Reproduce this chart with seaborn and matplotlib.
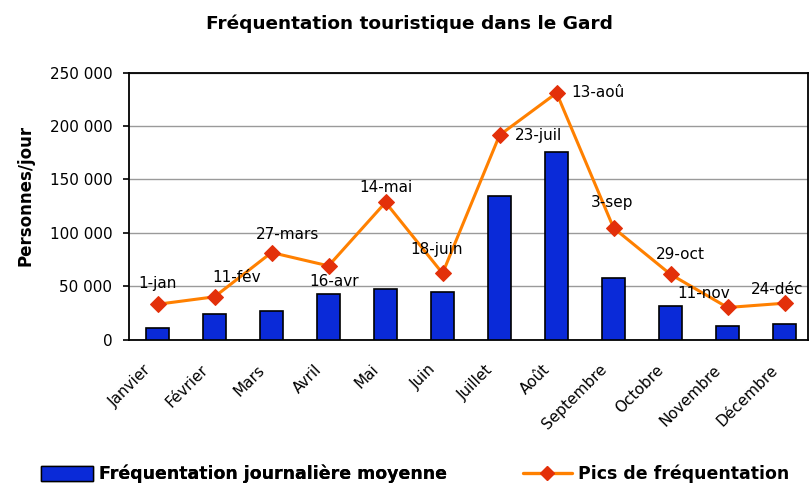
import matplotlib
matplotlib.use("Agg")
import matplotlib.pyplot as plt
import matplotlib.transforms as mtransforms
from matplotlib.ticker import FuncFormatter, MultipleLocator
from matplotlib.patches import Patch
from matplotlib.lines import Line2D
import seaborn as sns
import pandas as pd
import numpy as np

# ---- data ----
months = ["Janvier", "Février", "Mars", "Avril", "Mai", "Juin", "Juillet",
          "Août", "Septembre", "Octobre", "Novembre", "Décembre"]
avg_daily = [11000, 23500, 26500, 43000, 47000, 44500, 134500,
             176000, 57500, 31000, 13000, 14500]
peaks = [33000, 40000, 81500, 69000, 128500, 62000, 191500,
         231000, 104500, 61000, 30000, 34000]
peak_labels = ["1-jan", "11-fév", "27-mars", "16-avr", "14-mai", "18-juin",
               "23-juil", "13-aoû", "3-sep", "29-oct", "11-nov", "24-déc"]

title = "Fréquentation touristique dans le Gard"
ylabel = "Personnes/jour"
legend_bar = "Fréquentation journalière moyenne"
legend_line = "Pics de fréquentation"

# label placement (pixel offsets, ha)
label_offsets = [(0, 21, "center"), (22, 19, "center"), (16, 18, "center"),
                 (6, -16, "center"), (0, 15, "center"), (-6, 24, "center"),
                 (15, 0, "left"), (15, 0, "left"), (-2, 25, "center"),
                 (10, 20, "center"), (-24, 14, "center"), (-8, 14, "center")]

df = pd.DataFrame({"mois": months, "moyenne": avg_daily, "pic": peaks,
                   "idx": np.arange(len(months))})

sns.set_theme(style="white")
plt.rcParams["font.family"] = ["DejaVu Sans"]
plt.rcParams["text.color"] = "black"
plt.rcParams["axes.labelcolor"] = "black"
plt.rcParams["xtick.color"] = "black"
plt.rcParams["ytick.color"] = "black"

W, H = 810, 483
fig = plt.figure(figsize=(W / 100, H / 100), dpi=100)
ax = fig.add_axes([129 / W, 1 - 339.5 / H, (808 - 129) / W, (339.5 - 72.7) / H])

bar_color = "#0A2AD8"
line_color = "#FF8000"
marker_color = "#E3300A"

sns.barplot(data=df, x="mois", y="moyenne", ax=ax, color=bar_color,
            saturation=1, width=0.40, edgecolor="black", linewidth=1.2,
            zorder=3)
sns.lineplot(data=df, x="idx", y="pic", ax=ax, color=line_color, linewidth=2.2,
             marker="D", markersize=8.5, markerfacecolor=marker_color,
             markeredgecolor=marker_color, zorder=4)

ax.set_xlim(-0.5, 11.41)
ax.set_ylim(0, 250000)
ax.yaxis.set_major_locator(MultipleLocator(50000))
ax.yaxis.set_major_formatter(FuncFormatter(lambda v, p: f"{int(v):,}".replace(",", " ")))
ax.grid(axis="y", color="#9a9a9a", linewidth=1.0, zorder=0)
ax.set_axisbelow(True)
for s in ax.spines.values():
    s.set_color("black")
    s.set_linewidth(1.3)
    s.set_visible(True)

ax.tick_params(axis="y", length=4, width=1.2, color="black", pad=8,
               labelsize=11, left=True, labelcolor="black")
ax.tick_params(axis="x", length=0, pad=20, labelsize=11, labelcolor="black")
ax.set_xticks(range(len(months)))
ax.set_xticklabels(months, rotation=45, ha="right", va="center",
                   rotation_mode="anchor")
offset = mtransforms.ScaledTranslation(-9 / 100, 0, fig.dpi_scale_trans)
for lab in ax.get_xticklabels():
    lab.set_transform(lab.get_transform() + offset)

ax.set_xlabel("")
ax.set_ylabel(ylabel, fontsize=12, fontweight="bold", color="black")
ax.yaxis.set_label_coords((34 - 129) / (808 - 129), (339.5 - 195) / (339.5 - 72.7))

for i, (lab, (dx, dy, ha)) in enumerate(zip(peak_labels, label_offsets)):
    ax.annotate(lab, xy=(i, peaks[i]), xytext=(dx, dy), textcoords="offset pixels",
                ha=ha, va="center", fontsize=11, color="black", zorder=5)

fig.text(409 / W, 1 - 24 / H, title, ha="center", va="center",
         fontsize=13.3, fontweight="bold", color="black")

h1 = Patch(facecolor=bar_color, edgecolor="black", linewidth=1.0)
h2 = Line2D([0], [0], color=line_color, linewidth=2.4, marker="D", markersize=7,
            markerfacecolor=marker_color, markeredgecolor=marker_color)
leg1 = fig.legend([h1], [legend_bar], loc="center left",
                  bbox_to_anchor=(41 / W, 1 - 474 / H), frameon=False,
                  borderpad=0, borderaxespad=0, handlelength=3.0,
                  handleheight=1.0, handletextpad=0.35,
                  prop={"size": 12.5, "weight": "bold"})
leg2 = fig.legend([h2], [legend_line], loc="center left",
                  bbox_to_anchor=(523 / W, 1 - 474 / H), frameon=False,
                  borderpad=0, borderaxespad=0, handlelength=2.8,
                  handletextpad=0.35, numpoints=1,
                  prop={"size": 12.5, "weight": "bold"})
for leg in (leg1, leg2):
    for t in leg.get_texts():
        t.set_color("black")
fig.add_artist(leg1)

fig.savefig("out.png", dpi=100)
